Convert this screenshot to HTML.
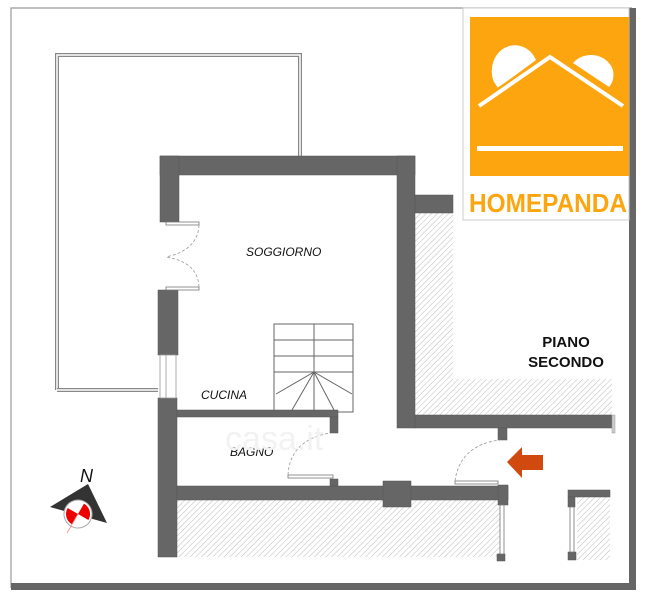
<!DOCTYPE html>
<html><head><meta charset="utf-8"><style>
html,body{margin:0;padding:0;background:#fff;}
svg{display:block;font-family:"Liberation Sans",sans-serif;}
</style></head><body>
<svg width="648" height="600" viewBox="0 0 648 600">
<defs>
<pattern id="h" width="4" height="4" patternUnits="userSpaceOnUse" patternTransform="rotate(45)">
<rect width="4" height="4" fill="#fff"/><line x1="0" y1="0" x2="0" y2="4" stroke="#bbb" stroke-width="1"/>
</pattern>
</defs>
<!-- outer frame -->
<path d="M11 588 V8 H632" fill="none" stroke="#999" stroke-width="1.2"/>
<rect x="11" y="583" width="625" height="7" fill="#666"/>
<rect x="629" y="8" width="7" height="582" fill="#666"/>
<!-- terrace -->
<path d="M57 390 V55 H300 V156" fill="none" stroke="#888" stroke-width="4"/>
<path d="M57 390 V55 H300 V156" fill="none" stroke="#fff" stroke-width="1.5"/>
<path d="M57 390 H158" fill="none" stroke="#888" stroke-width="4"/>
<path d="M57 390 H158" fill="none" stroke="#fff" stroke-width="1.5"/>
<!-- hatches -->
<rect x="415" y="213" width="38" height="170" fill="url(#h)"/>
<rect x="415" y="379" width="197" height="36" fill="url(#h)"/>
<rect x="177" y="500" width="323" height="57" fill="url(#h)"/>
<rect x="577" y="497" width="33" height="63" fill="url(#h)"/>
<!-- walls -->
<g fill="#666" stroke="#555" stroke-width="0.5">
<rect x="160" y="156" width="255" height="19"/>
<rect x="160" y="156" width="19" height="66"/>
<rect x="158" y="290" width="20" height="65"/>
<rect x="158" y="398" width="19" height="159"/>
<rect x="397" y="156" width="18" height="272"/>
<rect x="415" y="195" width="38" height="18"/>
<rect x="415" y="415" width="197" height="13"/>
<rect x="498" y="428" width="9" height="12"/>
<rect x="177" y="410" width="161" height="7"/>
<rect x="330" y="417" width="8" height="16"/>
<rect x="177" y="486" width="331" height="14"/>
<rect x="383" y="481" width="28" height="26"/>
<rect x="498" y="485" width="10" height="20"/>
<rect x="330" y="479" width="8" height="7"/>
<rect x="568" y="490" width="42" height="7"/>
<rect x="568" y="497" width="7" height="10"/>
<rect x="568" y="552" width="8" height="8"/>
<rect x="497" y="554" width="8" height="7"/>
</g>
<rect x="612" y="415" width="3" height="18" fill="#ccc" stroke="#999" stroke-width="0.5"/>
<!-- window -->
<rect x="160" y="355" width="16" height="43" fill="#fff" stroke="#999" stroke-width="0.8"/>
<line x1="166" y1="355" x2="166" y2="398" stroke="#999" stroke-width="0.8"/>
<!-- vertical windows -->
<rect x="500" y="505" width="4" height="49" fill="#fff" stroke="#777" stroke-width="0.8"/>
<rect x="570" y="507" width="4" height="45" fill="#fff" stroke="#777" stroke-width="0.8"/>
<!-- french doors -->
<g fill="#fff" stroke="#777" stroke-width="0.8">
<rect x="166" y="222" width="33" height="3"/>
<rect x="166" y="287" width="33" height="3"/>
<rect x="288" y="475" width="45" height="3"/>
<rect x="455" y="481" width="43" height="3"/>
</g>
<g fill="none" stroke="#999" stroke-width="0.8" stroke-dasharray="3,2">
<path d="M199 225 Q198 250 166 257"/>
<path d="M199 287 Q198 262 166 257"/>
<path d="M288 475 Q290 440 330 433"/>
<path d="M455 481 Q460 445 500 440"/>
</g>
<!-- stairs -->
<g fill="none" stroke="#666" stroke-width="1">
<rect x="274" y="324" width="79" height="88"/>
<line x1="314" y1="324" x2="314" y2="372"/>
<line x1="274" y1="340" x2="353" y2="340"/>
<line x1="274" y1="356" x2="353" y2="356"/>
<line x1="274" y1="372" x2="353" y2="372"/>
<line x1="314" y1="372" x2="276" y2="394"/>
<line x1="314" y1="372" x2="292" y2="410"/>
<line x1="314" y1="372" x2="314" y2="410"/>
<line x1="314" y1="372" x2="334" y2="410"/>
<line x1="314" y1="372" x2="352" y2="394"/>
</g>
<!-- labels -->
<g font-style="italic" font-size="12" fill="#111">
<text x="246" y="256">SOGGIORNO</text>
<text x="201" y="399">CUCINA</text>
<text x="230" y="456">BAGNO</text>
</g>
<text x="566" y="347" font-size="15" font-weight="bold" text-anchor="middle" fill="#111">PIANO</text>
<text x="566" y="367" font-size="15" font-weight="bold" text-anchor="middle" fill="#111">SECONDO</text>
<text x="225" y="450" font-size="34" fill="#f2f2f2">casa.it</text>
<!-- arrow -->
<polygon points="507,462 522,447 522,455 543,455 543,470 522,470 522,478" fill="#d04a10"/>
<!-- compass -->
<polygon points="50,507 88,484 107,523" fill="#333"/>
<g transform="translate(78,514) rotate(30)">
<circle r="14" fill="#fff" stroke="#aaa" stroke-width="1"/>
<path d="M0 0 L0 -12 A12 12 0 0 1 12 0 Z" fill="#e00"/>
<path d="M0 0 L0 12 A12 12 0 0 1 -12 0 Z" fill="#e00"/>
<line x1="0" y1="0" x2="0" y2="22" stroke="#f88" stroke-width="0.8"/>
</g>
<text x="80" y="482" font-size="18" font-style="italic" fill="#111">N</text>
<!-- logo -->
<rect x="463" y="8" width="166" height="212" fill="#fff" stroke="#ccc" stroke-width="1"/>
<rect x="470" y="17" width="159" height="159" fill="#fda50f"/>
<path d="M494 82 A18 20 0 0 1 536 60 L498 88 Z" fill="#fff"/>
<path d="M573 63 A18 16 0 0 1 609 87 Z" fill="#fff"/>
<polyline points="479,106 550,57 623,106" fill="none" stroke="#fda50f" stroke-width="9"/>
<polyline points="479,106 550,57 623,106" fill="none" stroke="#fff" stroke-width="4"/>
<rect x="477" y="146" width="146" height="5" fill="#fff"/>
<text x="548" y="212" font-size="26" font-weight="bold" fill="#fda50f" text-anchor="middle" textLength="158" lengthAdjust="spacingAndGlyphs">HOMEPANDA</text>
</svg>
</body></html>
